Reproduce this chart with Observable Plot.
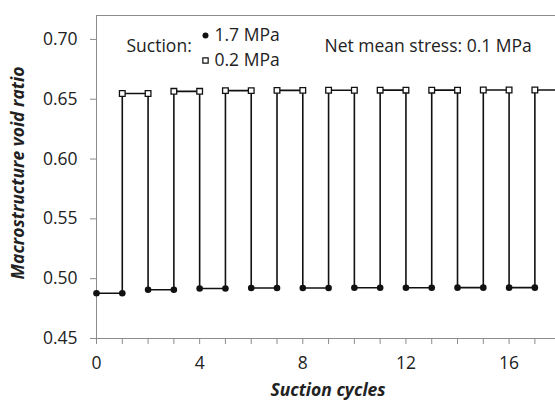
<!DOCTYPE html>
<html>
<head>
<meta charset="utf-8">
<script src="https://cdn.jsdelivr.net/npm/d3@7"></script>
<script src="https://cdn.jsdelivr.net/npm/@observablehq/plot@0.6"></script>
<style>
  html, body { margin: 0; padding: 0; background: #fff; }
</style>
</head>
<body>
<div id="chart"></div>
<script>
// Drying stages (suction 1.7 MPa): start/end cycle and macro void ratio
const lowStart = [0, 2, 4, 6, 8, 10, 12, 14, 16];
const lowEnd   = [1, 3, 5, 7, 9, 11, 13, 15, 17];
const lowVoid  = [0.4878, 0.4908, 0.4918, 0.4922, 0.4922, 0.4924, 0.4924, 0.4925, 0.4925];
// Wetting stages (suction 0.2 MPa)
const highStart = [1, 3, 5, 7, 9, 11, 13, 15, 17];
const highEnd   = [2, 4, 6, 8, 10, 12, 14, 16, 18];
const highVoid  = [0.6548, 0.6566, 0.6572, 0.6574, 0.6575, 0.6576, 0.6576, 0.6577, 0.6577];

const yTicks = [0.45, 0.50, 0.55, 0.60, 0.65, 0.70];
const xMajorTicks = [0, 4, 8, 12, 16];
const xMinorTicks = [0, 1, 2, 3, 4, 5, 6, 7, 8, 9, 10, 11, 12, 13, 14, 15, 16, 17];

const lowPts = [];
lowStart.forEach((s, i) => {
  lowPts.push({x: s, y: lowVoid[i]});
  lowPts.push({x: lowEnd[i], y: lowVoid[i]});
});
const highPts = [];
highStart.forEach((s, i) => {
  highPts.push({x: s, y: highVoid[i]});
  highPts.push({x: highEnd[i], y: highVoid[i]});
});
// path alternates low, high, low, high ...
const path = [];
for (let i = 0; i < lowStart.length; i++) {
  path.push(lowPts[2 * i], lowPts[2 * i + 1]);
  path.push(highPts[2 * i], highPts[2 * i + 1]);
}

const FONT = "'Open Sans', sans-serif";
const FS = 17.5;
const TXT = "#222";
const AX = "#8c8c8c";

const chart = Plot.plot({
  width: 555,
  height: 401,
  marginLeft: 96,
  marginRight: 0,
  marginTop: 15,
  marginBottom: 63,
  style: {fontFamily: FONT, fontSize: FS + "px", color: TXT, background: "#fff", overflow: "visible"},
  x: {domain: [0, 17.8]},
  y: {domain: [0.45, 0.72]},
  marks: [
    Plot.ruleY([0.72], {stroke: AX, strokeWidth: 1}),
    Plot.ruleX([0], {stroke: AX, strokeWidth: 1}),
    Plot.ruleY([0.45], {stroke: AX, strokeWidth: 1}),
    Plot.axisY({ticks: yTicks, tickFormat: d3.format(".2f"), tickSize: 6, tickPadding: 13, stroke: AX, fill: TXT, fontSize: FS, label: null}),
    Plot.axisX({ticks: xMinorTicks, tickFormat: () => "", tickSize: 6, stroke: AX, label: null}),
    Plot.axisX({ticks: xMajorTicks, tickFormat: d => String(d), tickSize: 0, tickPadding: 18, fill: TXT, fontSize: FS, label: null}),
    Plot.line(path, {x: "x", y: "y", stroke: "#111", strokeWidth: 1.6}),
    Plot.dot(lowPts, {x: "x", y: "y", r: 3.3, fill: "#111", stroke: "none"}),
    Plot.dot(highPts, {x: "x", y: "y", symbol: "square", r: 3.2, fill: "#fff", stroke: "#111", strokeWidth: 1.3}),
    // axis titles
    Plot.text(["Macrostructure void ratio"], {frameAnchor: "left", textAnchor: "middle", lineAnchor: "middle", dx: -78, dy: -4, rotate: -90, fontWeight: "bold", fontStyle: "italic", fontSize: FS, fill: TXT}),
    Plot.text(["Suction cycles"], {frameAnchor: "bottom", lineAnchor: "middle", dx: 2, dy: 52, fontWeight: "bold", fontStyle: "italic", fontSize: FS, fill: TXT}),
    // legend
    Plot.text(["Suction:"], {frameAnchor: "top-left", lineAnchor: "middle", dx: 30, dy: 31, textAnchor: "start", fontSize: FS, fill: TXT}),
    Plot.dot([0], {frameAnchor: "top-left", dx: 109, dy: 20, r: 3, fill: "#111", stroke: "none"}),
    Plot.text(["1.7 MPa"], {frameAnchor: "top-left", lineAnchor: "middle", dx: 118, dy: 20, textAnchor: "start", fontSize: FS, fill: TXT}),
    Plot.dot([0], {frameAnchor: "top-left", dx: 109, dy: 45, symbol: "square", r: 3, fill: "#fff", stroke: "#111", strokeWidth: 1.2}),
    Plot.text(["0.2 MPa"], {frameAnchor: "top-left", lineAnchor: "middle", dx: 118, dy: 45, textAnchor: "start", fontSize: FS, fill: TXT}),
    Plot.text(["Net mean stress: 0.1 MPa"], {frameAnchor: "top-left", lineAnchor: "middle", dx: 228, dy: 31, textAnchor: "start", fontSize: FS, fill: TXT})
  ]
});
document.getElementById("chart").appendChild(chart);
</script>
</body>
</html>
